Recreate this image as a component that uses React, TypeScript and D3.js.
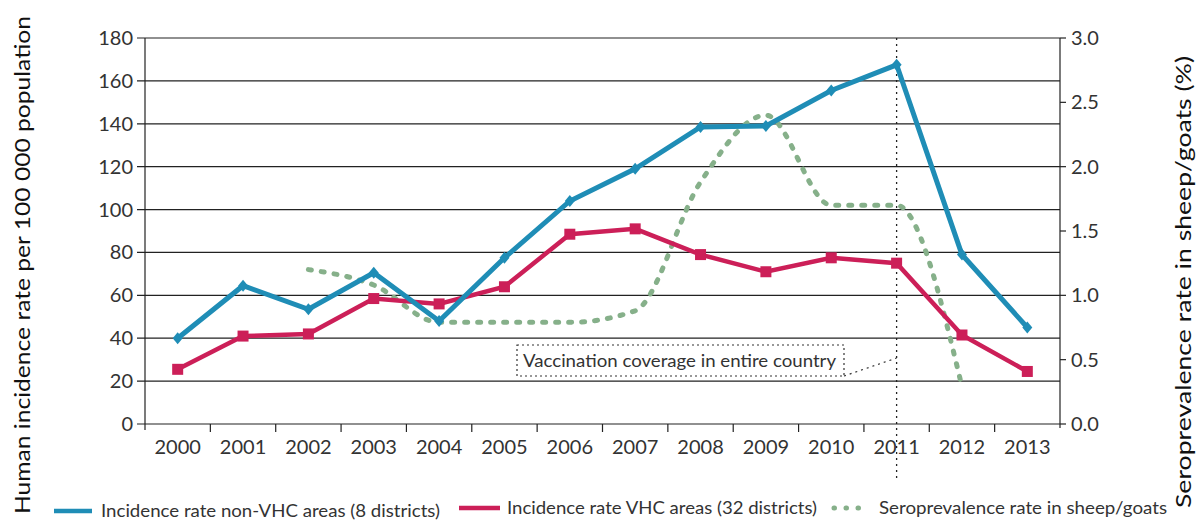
import * as d3 from 'd3';

const years = ['2000', '2001', '2002', '2003', '2004', '2005', '2006', '2007', '2008', '2009', '2010', '2011', '2012', '2013'];
const nonVhc = [40, 64.5, 53.5, 70.5, 48, 77.5, 104, 119, 138.5, 139, 155.5, 167.5, 79, 45];
const vhc = [25.5, 41, 42, 58.5, 56, 64, 88.5, 91, 79, 71, 77.5, 75, 41.5, 24.5];
const seroYears = ['2002', '2003', '2004', '2005', '2006', '2007', '2008', '2009', '2010', '2011', '2012'];
const sero = [1.2, 1.08, 0.79, 0.79, 0.79, 0.88, 1.88, 2.4, 1.7, 1.7, 0.29];
const leftTicks = [0, 20, 40, 60, 80, 100, 120, 140, 160, 180];
const rightTicks = [0, 0.5, 1, 1.5, 2, 2.5, 3];

const W = 1197;
const H = 520;
const M = { left: 145, right: 1060, top: 38, bottom: 424 };
const FONT = 'Lato, "Open Sans", sans-serif';
const BLUE = '#1f8db6';
const RED = '#cc1f58';
const GREEN = '#86b08a';
const TXT = '#333';

export default function App() {
  const x = d3.scaleBand<string>().domain(years).range([M.left, M.right]);
  const cx = (y: string) => (x(y) ?? 0) + x.bandwidth() / 2;
  const yL = d3.scaleLinear().domain([0, 180]).range([M.bottom, M.top]);
  const yR = d3.scaleLinear().domain([0, 3]).range([M.bottom, M.top]);

  const lineL = d3
    .line<number>()
    .x((_, i) => cx(years[i]))
    .y((d) => yL(d));
  const lineS = d3
    .line<number>()
    .x((_, i) => cx(seroYears[i]))
    .y((d) => yR(d))
    .curve(d3.curveMonotoneX);

  const vx = cx('2011');
  const boundaries = years.map((y) => x(y) ?? 0).concat([M.right]);

  return (
    <svg width={W} height={H} style={{ position: 'absolute', left: 0, top: 0 }} fontFamily={FONT}>
      {/* grid + left ticks */}
      {leftTicks.map((t) => (
        <g key={t}>
          <line x1={M.left - 8} x2={M.right} y1={yL(t)} y2={yL(t)} stroke="#222" strokeWidth={1.2} />
          <text x={M.left - 12} y={yL(t)} dy="0.35em" textAnchor="end" fontSize={20} fill={TXT}>
            {t}
          </text>
        </g>
      ))}
      {/* right ticks */}
      {rightTicks.map((t) => (
        <g key={t}>
          <line x1={M.right} x2={M.right + 6} y1={yR(t)} y2={yR(t)} stroke="#222" strokeWidth={1.2} />
          <text x={M.right + 11} y={yR(t)} dy="0.35em" textAnchor="start" fontSize={20} fill={TXT}>
            {t.toFixed(1)}
          </text>
        </g>
      ))}
      <line x1={M.left} x2={M.left} y1={M.top} y2={M.bottom + 6} stroke="#222" strokeWidth={1.2} />
      <line x1={M.right} x2={M.right} y1={M.top} y2={M.bottom + 4} stroke="#222" strokeWidth={1.2} />
      {/* bottom ticks */}
      {boundaries.slice(1, -1).map((b, i) => (
        <line key={i} x1={b} x2={b} y1={M.bottom} y2={M.bottom + 8} stroke="#222" strokeWidth={1.2} />
      ))}
      {years.map((y) => (
        <text key={y} x={cx(y)} y={M.bottom + 30} textAnchor="middle" fontSize={20} fill={TXT}>
          {y}
        </text>
      ))}

      {/* vaccination marker */}
      <line x1={vx} x2={vx} y1={M.top} y2={478} stroke="#222" strokeWidth={1.3} strokeDasharray="2 4" />
      <rect x={517} y={345} width={327} height={31} fill="#fff" stroke="#333" strokeWidth={1.2} strokeDasharray="2 3" />
      <text x={523} y={361} dy="0.35em" textAnchor="start" fontSize={17} fill={TXT} textLength={313} lengthAdjust="spacingAndGlyphs">
        Vaccination coverage in entire country
      </text>
      <line x1={844} x2={vx} y1={376} y2={358} stroke="#333" strokeWidth={1.2} strokeDasharray="2 4" />

      {/* series */}
      <path d={lineS(sero) ?? ''} fill="none" stroke={GREEN} strokeWidth={5} strokeLinecap="round" strokeDasharray="3 10" />
      <path d={lineL(vhc) ?? ''} fill="none" stroke={RED} strokeWidth={4.5} />
      {vhc.map((v, i) => (
        <rect key={i} x={cx(years[i]) - 5.5} y={yL(v) - 5.5} width={11} height={11} fill={RED} />
      ))}
      <path d={lineL(nonVhc) ?? ''} fill="none" stroke={BLUE} strokeWidth={5} />
      {nonVhc.map((v, i) => (
        <path
          key={i}
          transform={`translate(${cx(years[i])},${yL(v)})`}
          d="M0,-6L5,0L0,6L-5,0Z"
          fill={BLUE}
        />
      ))}

      {/* axis titles */}
      <text transform="translate(30,265) rotate(-90)" textAnchor="middle" fontSize={22} fill="#111" textLength={498} lengthAdjust="spacingAndGlyphs">
        Human incidence rate per 100 000 population
      </text>
      <text transform="translate(1191,282) rotate(-90)" textAnchor="middle" fontSize={22} fill="#111" textLength={452} lengthAdjust="spacingAndGlyphs">
        Seroprevalence rate in sheep/goats (%)
      </text>

      {/* legend */}
      <line x1={54} x2={92} y1={511} y2={511} stroke={BLUE} strokeWidth={4.5} />
      <text x={101} y={511} dy="0.35em" fontSize={17} fill={TXT} textLength={339} lengthAdjust="spacingAndGlyphs">
        Incidence rate non-VHC areas (8 districts)
      </text>
      <line x1={459} x2={500} y1={508} y2={508} stroke={RED} strokeWidth={4.5} />
      <text x={507} y={508} dy="0.35em" fontSize={17} fill={TXT} textLength={310} lengthAdjust="spacingAndGlyphs">
        Incidence rate VHC areas (32 districts)
      </text>
      <line x1={834} x2={870} y1={508} y2={508} stroke={GREEN} strokeWidth={5} strokeLinecap="round" strokeDasharray="0.5 11.5" />
      <text x={879} y={508} dy="0.35em" fontSize={17} fill={TXT} textLength={288} lengthAdjust="spacingAndGlyphs">
        Seroprevalence rate in sheep/goats
      </text>
    </svg>
  );
}
